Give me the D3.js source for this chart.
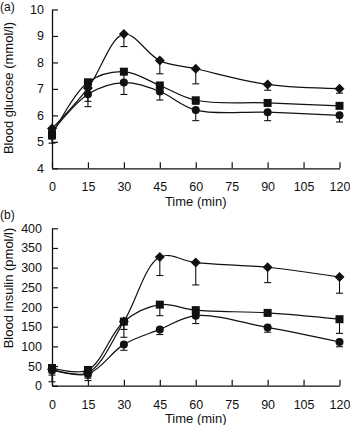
<!DOCTYPE html>
<html>
<head>
<meta charset="utf-8">
<script src="https://cdn.jsdelivr.net/npm/d3@7"></script>
<style>
  html, body { margin: 0; padding: 0; background: #fff; }
  svg text { font-family: "Liberation Sans", Arial, Helvetica, sans-serif; fill: #111; }
</style>
</head>
<body>
<svg id="chart" width="350" height="425"></svg>
<script>
// ---------------- DATA ----------------
const times = [0, 15, 30, 45, 60, 90, 120];
const xTicks = [0, 15, 30, 45, 60, 75, 90, 105, 120];

// Panel (a) blood glucose (mmol/l)
const glucoseDiamond = [5.50, 7.03, 9.07, 8.07, 7.76, 7.17, 7.01];
const glucoseDiamondErr = [0.20, 0.50, 0.47, 0.50, 0.57, 0.22, 0.17];
const glucoseSquare = [5.26, 7.25, 7.65, 7.13, 6.57, 6.47, 6.36];
const glucoseSquareErr = [0.16, 0.25, 0.35, 0.25, 0.15, 0.10, 0.10];
const glucoseCircle = [5.38, 6.80, 7.24, 6.90, 6.20, 6.12, 6.00];
const glucoseCircleErr = [0.43, 0.47, 0.45, 0.32, 0.40, 0.32, 0.25];
const glucoseTicks = [4, 5, 6, 7, 8, 9, 10];

// Panel (b) blood insulin (pmol/l)
const insulinDiamond = [42, 33, 163, 327, 313, 301, 276];
const insulinDiamondErr = [15, 14, 20, 47, 57, 39, 41];
const insulinSquare = [45, 40, 163, 206, 192, 185, 169];
const insulinSquareErr = [13, 17, 40, 28, 8, 5, 36];
const insulinCircle = [40, 30, 105, 143, 178, 148, 111];
const insulinCircleErr = [30, 17, 15, 13, 20, 12, 12];
const insulinTicks = [0, 50, 100, 150, 200, 250, 300, 350, 400];

// ---------------- DRAW ----------------
const svg = d3.select("#chart");
const ink = "#111";

function panel(opts) {
  const x = d3.scaleLinear().domain([0, 120]).range([52, 339.5]);
  const y = d3.scaleLinear().domain(opts.yDomain).range(opts.yRange);
  const g = svg.append("g");

  const xa = g.append("g").attr("transform", `translate(0,${opts.yRange[0]})`)
    .call(d3.axisBottom(x).tickValues(xTicks).tickFormat(d3.format("d"))
      .tickSizeInner(-6).tickSizeOuter(0).tickPadding(14));
  const ya = g.append("g").attr("transform", `translate(52,0)`)
    .call(d3.axisLeft(y).tickValues(opts.yTicks).tickFormat(d3.format("d"))
      .tickSizeInner(-6).tickSizeOuter(0).tickPadding(opts.yPad));
  [xa, ya].forEach(a => {
    a.select(".domain").attr("stroke", ink).attr("stroke-width", 1.3);
    a.selectAll(".tick line").attr("stroke", ink).attr("stroke-width", 1.2);
    a.selectAll(".tick text").attr("font-size", 12.5).attr("fill", ink)
      .style("font-family", '"Liberation Sans", Arial, sans-serif');
  });

  const series = [
    { v: opts.circle, e: opts.circleErr, shape: "circle" },
    { v: opts.square, e: opts.squareErr, shape: "square" },
    { v: opts.diamond, e: opts.diamondErr, shape: "diamond" }
  ];

  const line = d3.line().x((d, i) => x(times[i])).y(d => y(d)).curve(d3.curveCatmullRom.alpha(0.5));

  series.forEach(s => {
    g.append("path").attr("d", line(s.v)).attr("fill", "none").attr("stroke", ink).attr("stroke-width", 1.2);
  });
  series.forEach(s => {
    s.v.forEach((v, i) => {
      const cx = x(times[i]);
      const y0 = y(v), y1 = y(v - s.e[i]);
      g.append("line").attr("x1", cx).attr("x2", cx).attr("y1", y0).attr("y2", y1)
        .attr("stroke", ink).attr("stroke-width", 1.1);
      g.append("line").attr("x1", cx - 3.5).attr("x2", cx + 3.5).attr("y1", y1).attr("y2", y1)
        .attr("stroke", ink).attr("stroke-width", 1.1);
    });
  });
  series.forEach(s => {
    s.v.forEach((v, i) => {
      const cx = x(times[i]), cy = y(v);
      if (s.shape === "circle") {
        g.append("circle").attr("cx", cx).attr("cy", cy).attr("r", 4).attr("fill", ink);
      } else if (s.shape === "square") {
        g.append("rect").attr("x", cx - 4).attr("y", cy - 4).attr("width", 8).attr("height", 8).attr("fill", ink);
      } else {
        g.append("path").attr("d", `M${cx},${cy - 5}L${cx + 5},${cy}L${cx},${cy + 5}L${cx - 5},${cy}Z`).attr("fill", ink);
      }
    });
  });

  g.append("text").attr("x", 195.7).attr("y", opts.xTitleY).attr("text-anchor", "middle")
    .attr("font-size", 13).text("Time (min)");
  g.append("text").attr("transform", `translate(${opts.yTitleX},${opts.yTitleMid}) rotate(-90)`)
    .attr("text-anchor", "middle").attr("font-size", 13).text(opts.yTitle);
  g.append("text").attr("x", 0).attr("y", opts.labelY).attr("font-size", 12).text(opts.label);
}

panel({
  yDomain: [4, 10], yRange: [168.3, 9.5], yTicks: glucoseTicks, yPad: 8,
  diamond: glucoseDiamond, diamondErr: glucoseDiamondErr,
  square: glucoseSquare, squareErr: glucoseSquareErr,
  circle: glucoseCircle, circleErr: glucoseCircleErr,
  xTitleY: 206, yTitleX: 13, yTitleMid: 88, yTitle: "Blood glucose (mmol/l)",
  label: "(a)", labelY: 11
});
panel({
  yDomain: [0, 400], yRange: [385.7, 228.3], yTicks: insulinTicks, yPad: 10,
  diamond: insulinDiamond, diamondErr: insulinDiamondErr,
  square: insulinSquare, squareErr: insulinSquareErr,
  circle: insulinCircle, circleErr: insulinCircleErr,
  xTitleY: 423, yTitleX: 13, yTitleMid: 288, yTitle: "Blood insulin (pmol/l)",
  label: "(b)", labelY: 219
});
</script>
</body>
</html>
